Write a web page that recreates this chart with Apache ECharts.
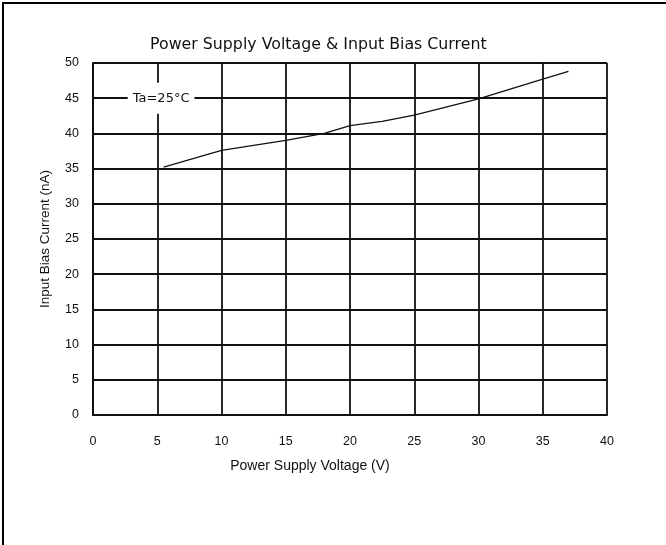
<!DOCTYPE html>
<html>
<head>
<meta charset="utf-8">
<script src="https://cdn.jsdelivr.net/npm/echarts@6/dist/echarts.min.js"></script>
<style>
  html, body { margin: 0; padding: 0; background: #fff; }
  #chart { width: 666px; height: 545px; }
</style>
</head>
<body>
<div id="chart"></div>
<script>
// values
const voltage = [5.5, 10, 15, 18, 20, 22.5, 25, 30, 35, 37]
const biasCurrent = [35.2, 37.6, 39.0, 40.0, 41.1, 41.7, 42.6, 44.9, 47.7, 48.8]
const xTicks = [0, 5, 10, 15, 20, 25, 30, 35, 40]
const yTicks = [0, 5, 10, 15, 20, 25, 30, 35, 40, 45, 50]
const noteAt = [5.3, 45]

const font = 'Liberation Sans, Arial, sans-serif'
const wide = 'DejaVu Sans, sans-serif'
const chart = echarts.init(document.getElementById('chart'))

chart.setOption({
  backgroundColor: '#fff',
  animation: false,
  title: {
    text: 'Power Supply Voltage & Input Bias Current',
    left: 145,
    top: 32,
    textStyle: { fontFamily: wide, fontSize: 15.8, fontWeight: 'normal', color: '#111' }
  },
  graphic: [
    {
      type: 'rect',
      shape: { x: 3, y: 3, width: 720, height: 620 },
      style: { fill: 'none', stroke: '#000', lineWidth: 2 },
      silent: true
    }
  ],
  grid: { left: 93, right: 59, top: 63, bottom: 130 },
  xAxis: {
    type: 'value',
    min: xTicks[0],
    max: xTicks[xTicks.length - 1],
    interval: 5,
    name: 'Power Supply Voltage (V)',
    nameLocation: 'middle',
    nameGap: 44,
    // the name sits left of the plot centre in the original
    nameTextStyle: { fontFamily: font, fontSize: 14, color: '#111', padding: [0, 80, 0, 0] },
    axisLine: { show: true, lineStyle: { color: '#111', width: 2 } },
    axisTick: { show: false },
    axisLabel: { fontFamily: font, fontSize: 12.5, color: '#111', margin: 20 },
    splitLine: { show: true, lineStyle: { color: '#111', width: 1.8 } }
  },
  yAxis: {
    type: 'value',
    min: yTicks[0],
    max: yTicks[yTicks.length - 1],
    interval: 5,
    name: 'Input Bias Current (nA)',
    nameLocation: 'middle',
    nameGap: 41,
    nameTextStyle: { fontFamily: font, fontSize: 13.5, color: '#111' },
    axisLine: { show: true, lineStyle: { color: '#111', width: 2 } },
    axisTick: { show: false },
    axisLabel: { fontFamily: font, fontSize: 12.5, color: '#111', margin: 14 },
    splitLine: { show: true, lineStyle: { color: '#111', width: 1.8 } }
  },
  series: [
    {
      type: 'line',
      data: voltage.map((v, i) => [v, biasCurrent[i]]),
      showSymbol: false,
      lineStyle: { color: '#111', width: 1.3 },
      markPoint: {
        symbol: 'rect',
        symbolSize: 0,
        data: [{ coord: noteAt }],
        label: {
          show: true,
          position: 'inside',
          formatter: 'Ta=25°C',
          fontFamily: wide,
          fontSize: 13,
          color: '#111',
          backgroundColor: '#fff',
          padding: [9, 5]
        }
      }
    }
  ]
})
</script>
</body>
</html>
